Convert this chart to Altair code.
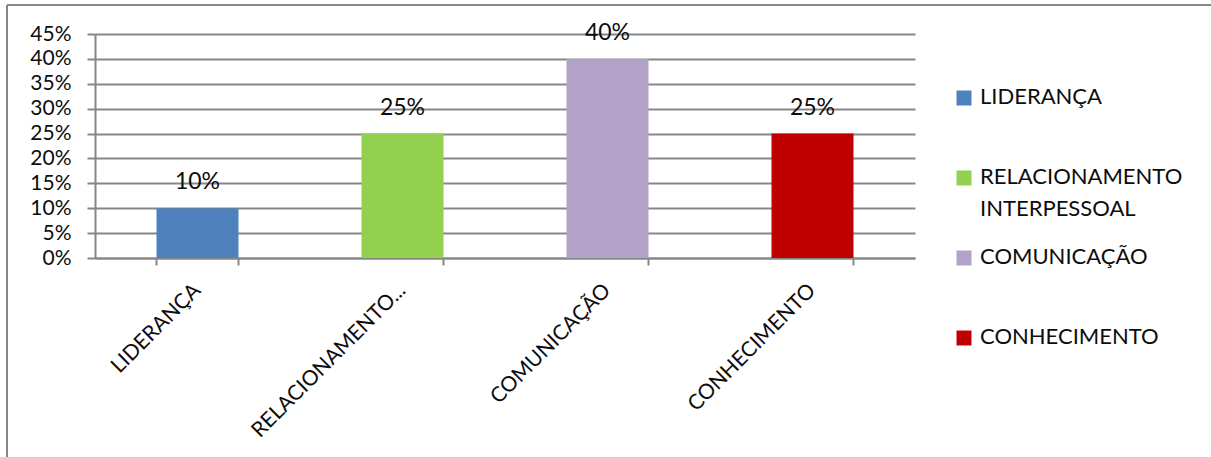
import altair as alt
import pandas as pd

categories = ["LIDERANÇA", "RELACIONAMENTO INTERPESSOAL", "COMUNICAÇÃO", "CONHECIMENTO"]
values = [0.10, 0.25, 0.40, 0.25]
colors = ["#4F81BD", "#92D050", "#B3A2C7", "#C00000"]
legend_labels = ["LIDERANÇA", "RELACIONAMENTO\nINTERPESSOAL", "COMUNICAÇÃO", "CONHECIMENTO"]
y_ticks = [0.0, 0.05, 0.10, 0.15, 0.20, 0.25, 0.30, 0.35, 0.40, 0.45]

df = pd.DataFrame({"cat": categories, "value": values, "legend": legend_labels})
frame = pd.DataFrame({"k": [0]})

FONT = "Lato"
GRAY = "#878787"
TXT = "#0d0d0d"

color = alt.Color("cat:N", scale=alt.Scale(domain=categories, range=colors), legend=None)

xenc = alt.X(
    "cat:N", sort=categories,
    scale=alt.Scale(paddingInner=0.6, paddingOuter=0.3),
    axis=alt.Axis(
        title=None, labelAngle=315, labelFontSize=21, labelFont=FONT, labelColor=TXT,
        labelExpr="datum.label == 'RELACIONAMENTO INTERPESSOAL' ? 'RELACIONAMENTO...' : datum.label",
        labelBaseline="middle", labelAlign="right",
        tickSize=7, tickColor=GRAY, tickWidth=2, domainColor=GRAY, domainWidth=2,
        bandPosition=1, tickExtra=True, labelPadding=22, labelLimit=0, grid=False,
        labelOverlap=False,
    ),
)
yenc = alt.Y(
    "value:Q",
    scale=alt.Scale(domain=[0, 0.45], nice=False, zero=True),
    axis=alt.Axis(
        title=None, values=y_ticks, tickCount=10, format=".0%", grid=True,
        gridColor=GRAY, gridWidth=2, labelOverlap=False,
        tickSize=8, tickColor=GRAY, tickWidth=2, domainColor=GRAY, domainWidth=2,
        labelPadding=16, labelFontSize=21, labelFont=FONT, labelColor=TXT,
    ),
)

bars = alt.Chart(df).mark_bar().encode(x=xenc, y=yenc, color=color)
labels = alt.Chart(df).mark_text(
    baseline="alphabetic", dy=-19, font=FONT, fontSize=23, color=TXT
).encode(
    x=alt.X("cat:N", sort=categories),
    y="value:Q",
    text=alt.Text("value:Q", format=".0%"),
)
main = alt.layer(bars, labels)

leg_y = alt.Y("cat:N", sort=categories,
              scale=alt.Scale(type="point", range=[64, 304], padding=0), axis=None)
leg_sq = alt.Chart(df).mark_square(size=225, opacity=1, filled=True).encode(
    x=alt.value(869), y=leg_y, color=color)
leg_tx = alt.Chart(df).mark_text(
    align="left", baseline="top", dy=-11, lineBreak="\n", lineHeight=32,
    font=FONT, fontSize=22, color=TXT,
).encode(x=alt.value(885), y=leg_y, text="legend:N")
legend = alt.layer(leg_sq, leg_tx)

top_border = alt.Chart(frame).mark_rule(color=GRAY, strokeWidth=2).encode(
    x=alt.value(-88), x2=alt.value(1130), y=alt.value(-29))
left_border = alt.Chart(frame).mark_rule(color=GRAY, strokeWidth=2).encode(
    x=alt.value(-88), y=alt.value(-29), y2=alt.value(440))

chart = alt.layer(main, legend, top_border, left_border).resolve_scale(
    y="independent"
).properties(
    width=820, height=224,
    padding={"left": 95, "top": 34, "right": 296, "bottom": 199},
    autosize=alt.AutoSizeParams(type="none"),
    background="white",
).configure_view(stroke="transparent")

chart.save("out.html", embed_options={"renderer": "svg", "actions": False})
